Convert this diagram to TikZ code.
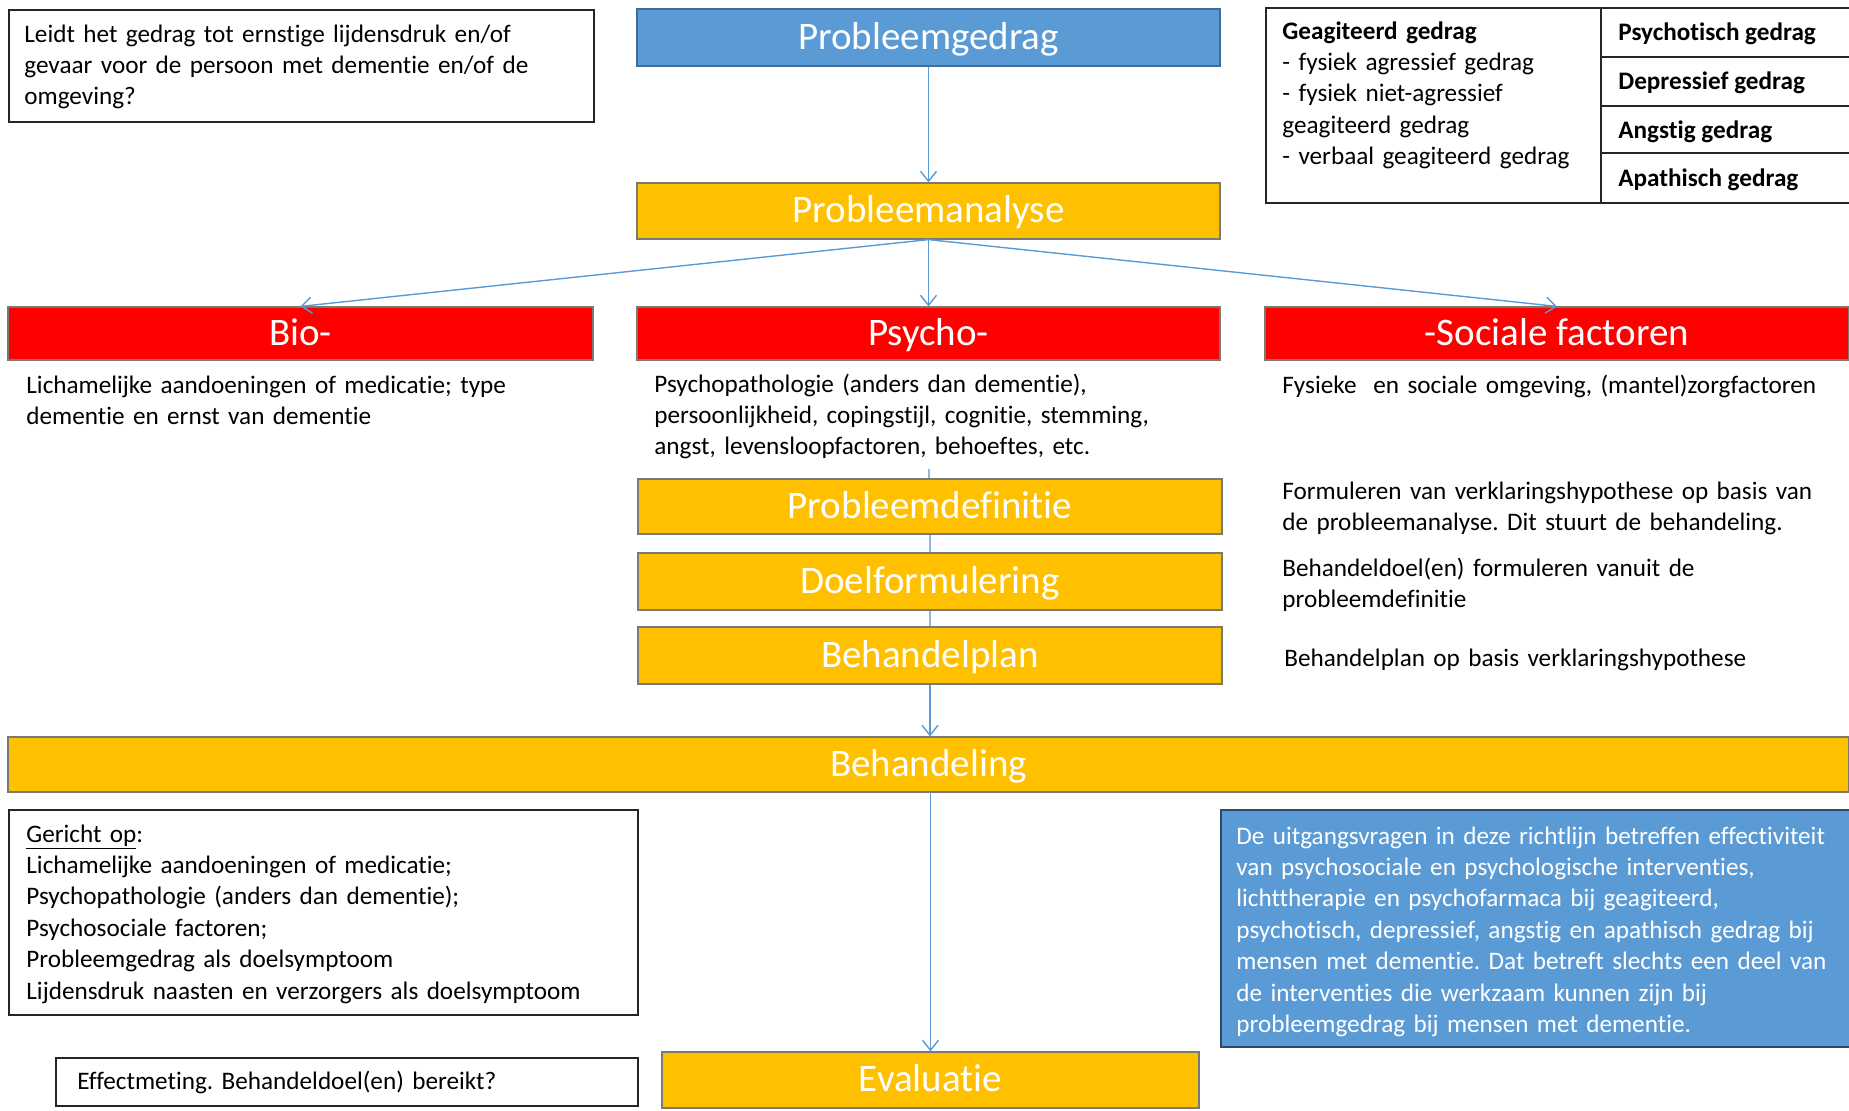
\documentclass[tikz,border=0pt]{standalone}
\usepackage{fontspec}
\setmainfont{Carlito}[Ligatures=NoCommon]
\usetikzlibrary{arrows.meta}
\definecolor{pblue}{HTML}{5B9BD5}
\definecolor{pgold}{HTML}{FFC000}
\definecolor{pred}{HTML}{FF0000}
\definecolor{linkc}{HTML}{5B9BD5}
\definecolor{boxedge}{HTML}{7A7A6E}
\definecolor{navyedge}{HTML}{2F4A66}
\frenchspacing
\hyphenpenalty=10000
\begin{document}
\begin{tikzpicture}[x=0.5pt,y=-0.5pt,
  title/.style={font=\fontsize{19.5}{23}\selectfont, text=white, draw=boxedge, line width=0.6pt, inner sep=0pt, anchor=center, text height=11.5pt, text depth=0pt},
  goldbox/.style={title, fill=pgold},
  redbox/.style={title, fill=pred},
  bluebox/.style={title, fill=pblue, draw=pblue!70!black},
  body/.style={font=\fontsize{12.6}{15.7}\selectfont, align=left, inner sep=0pt, anchor=base west},
  bodyb/.style={body, font=\fontsize{12.6}{15.7}\selectfont\bfseries},
  txtframe/.style={draw=black!85, line width=0.75pt, inner sep=0pt, anchor=north west},
  tabline/.style={draw=black!85, line width=0.75pt},
  link/.style={draw=linkc, line width=0.7pt, -{Straight Barb[length=5pt,width=8pt]}},
  plainlink/.style={draw=linkc!70, line width=0.6pt},
]
\useasboundingbox (0,0) rectangle (1849,1110);

% top-left question
\node[txtframe, minimum width=292.5pt, minimum height=56pt] (q) at (8,9) {};
\node[body, text width=400pt] (qt) at (24,42) {Leidt het gedrag tot ernstige lijdensdruk en/of\\gevaar voor de persoon met dementie en/of de\\omgeving?};

% main column
\node[bluebox, minimum width=291.5pt, minimum height=28.5pt] (pg) at (928.5,37.5) {Probleemgedrag};
\node[goldbox, minimum width=291.5pt, minimum height=28pt] (pa) at (928.5,211) {Probleemanalyse};

% table top right
\node[txtframe, minimum width=292pt, minimum height=97.5pt] (tab) at (1265,7) {};
\draw[tabline] (1601,7) -- (1601,202);
\draw[tabline] (1601,57) -- (1849,57);
\draw[tabline] (1601,106) -- (1849,106);
\draw[tabline] (1601,153) -- (1849,153);
\node[body, text width=300pt] (tagit) at (1282,39) {\textbf{Geagiteerd gedrag}\\- fysiek agressief gedrag\\- fysiek niet-agressief\\geagiteerd gedrag\\- verbaal geagiteerd gedrag};
\node[bodyb] (tpsy) at (1618,40) {Psychotisch gedrag};
\node[bodyb] (tdep) at (1618,89) {Depressief gedrag};
\node[bodyb] (tang) at (1618,138) {Angstig gedrag};
\node[bodyb] (tapa) at (1618,186) {Apathisch gedrag};

% bio-psycho-social
\node[redbox, minimum width=292.5pt, minimum height=26.5pt] (bio) at (300.5,333.5) {Bio-};
\node[redbox, minimum width=291.5pt, minimum height=26.5pt] (psy) at (928.5,333.5) {Psycho-};
\node[redbox, minimum width=292pt, minimum height=26.5pt] (soc) at (1557,333.5) {-Sociale factoren};

\node[body, text width=400pt] (biot) at (26,393) {Lichamelijke aandoeningen of medicatie; type\\dementie en ernst van dementie};
\node[body, text width=400pt] (psyt) at (654,392) {Psychopathologie (anders dan dementie),\\persoonlijkheid, copingstijl, cognitie, stemming,\\angst, levensloopfactoren, behoeftes, etc.};
\node[body, text width=400pt] (soct) at (1282,393) {Fysieke\ \ en sociale omgeving, (mantel)zorgfactoren};

% steps
\node[goldbox, minimum width=292pt, minimum height=27.5pt] (pd) at (930,506.5) {Probleemdefinitie};
\node[goldbox, minimum width=292pt, minimum height=28.5pt] (df) at (930,581.5) {Doelformulering};
\node[goldbox, minimum width=292pt, minimum height=28.5pt] (bp) at (930,655.5) {Behandelplan};

\node[body, text width=400pt] (pdt) at (1282,499) {Formuleren\ van verklaringshypothese op basis van\\de probleemanalyse. Dit stuurt de behandeling.};
\node[body, text width=400pt] (dft) at (1282,576) {Behandeldoel(en) formuleren\ vanuit de\\probleemdefinitie};
\node[body, text width=400pt] (bpt) at (1284,666) {Behandelplan op basis verklaringshypothese};

\node[goldbox, minimum width=920.5pt, minimum height=27.5pt] (beh) at (928.5,764.5) {Behandeling};

% lower boxes
\node[txtframe, minimum width=314.5pt, minimum height=102.5pt] (ger) at (8,809) {};
\node[body, text width=400pt] (gert) at (26,842) {\underline{Gericht op}:\\Lichamelijke aandoeningen of medicatie;\\Psychopathologie (anders dan dementie);\\Psychosociale factoren;\\Probleemgedrag\ als doelsymptoom\\Lijdensdruk naasten en verzorgers als doelsymptoom};

\node[txtframe, fill=pblue, draw=navyedge, minimum width=314.5pt, minimum height=118.5pt] (info) at (1220,809) {};
\node[body, text=white, text width=400pt] (infot) at (1236,844) {De uitgangsvragen in deze richtlijn betreffen effectiviteit\\van psychosociale en psychologische interventies,\\lichttherapie en psychofarmaca bij geagiteerd,\\psychotisch, depressief, angstig en apathisch gedrag bij\\mensen met dementie. Dat betreft slechts een deel van\\de interventies die werkzaam kunnen zijn bij\\probleemgedrag\ bij mensen met dementie.};

\node[txtframe, minimum width=291pt, minimum height=24pt] (eff) at (55,1057) {};
\node[body, text width=400pt] (efft) at (77,1089) {Effectmeting. Behandeldoel(en) bereikt?};

\node[goldbox, minimum width=268.5pt, minimum height=28pt] (ev) at (930.5,1080) {Evaluatie};

% connectors
\coordinate (psyend) at (929,469);
\draw[link] (pg.south) -- (pa.north);
\draw[link] (pa.south) -- (bio.north);
\draw[link] (pa.south) -- (psy.north);
\draw[link] (pa.south) -- (soc.north);
\draw[plainlink] (psyend) -- (psyend |- pd.north);
\draw[plainlink] (pd.south) -- (df.north);
\draw[plainlink] (df.south) -- (bp.north);
\draw[link] (bp.south) -- (bp.south |- beh.north);
\draw[link] (beh.south) -- (beh.south -| ev.north) -- (ev.north);
\end{tikzpicture}
\end{document}
